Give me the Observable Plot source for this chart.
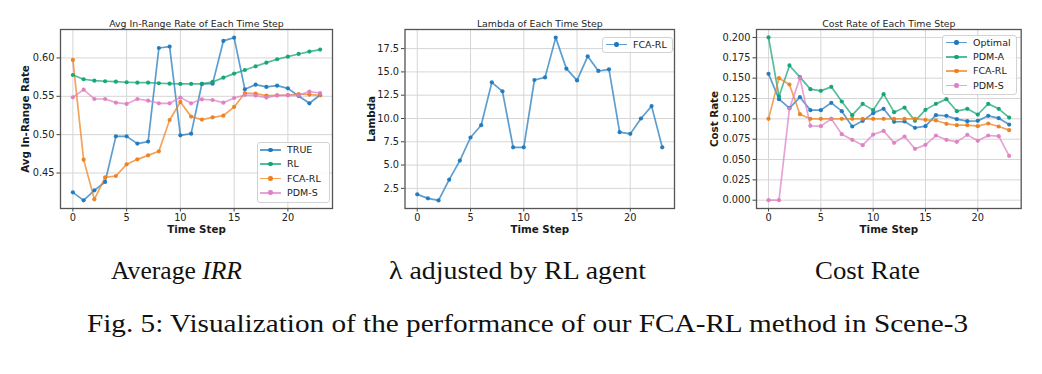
<!DOCTYPE html>
<html><head><meta charset="utf-8">
<script src="https://cdn.jsdelivr.net/npm/d3@7"></script>
<script src="https://cdn.jsdelivr.net/npm/@observablehq/plot@0.6"></script>
<style>
body{margin:0;background:#fff;}
#root{position:relative;width:1042px;height:374px;overflow:hidden;background:#fff;}
.panel{position:absolute;top:0;}
.legend{position:absolute;border:1px solid #d2d2d2;border-radius:3px;background:rgba(255,255,255,0.85);font-family:"DejaVu Sans";font-size:9.5px;color:#222;box-sizing:border-box;}
.row{position:absolute;left:0;height:12px;}
.row .ln{position:absolute;top:5px;height:1.7px;width:21px;opacity:0.72;}
.row .dt{position:absolute;top:3.6px;width:4.4px;height:4.4px;border-radius:50%;}
.row .tx{position:absolute;top:0;white-space:nowrap;line-height:12px;}
.cap{position:absolute;font-family:"Liberation Serif";font-size:25px;line-height:25px;white-space:nowrap;transform-origin:0 0;color:#111;}
</style>
</head><body><div id="root"></div>
<script>
// ---- data ----
const steps = [0,1,2,3,4,5,6,7,8,9,10,11,12,13,14,15,16,17,18,19,20,21,22,23];

const irrSeries = ["TRUE", "RL", "FCA-RL", "PDM-S"];
const irrTrue = [0.4248,0.4143,0.4274,0.4383,0.4978,0.4978,0.4883,0.4909,0.6130,0.6148,0.4991,0.5013,0.5661,0.5665,0.6222,0.6265,0.5591,0.5652,0.5622,0.5639,0.5604,0.5504,0.5409,0.5517];
const irrRL   = [0.5778,0.5722,0.5704,0.5696,0.5691,0.5683,0.5678,0.5678,0.5670,0.5665,0.5661,0.5661,0.5661,0.5687,0.5743,0.5796,0.5843,0.5891,0.5939,0.5983,0.6017,0.6052,0.6083,0.6109];
const irrFCA  = [0.5974,0.4674,0.4157,0.4443,0.4461,0.4613,0.4678,0.4730,0.4783,0.5191,0.5426,0.5235,0.5196,0.5226,0.5248,0.5361,0.5543,0.5535,0.5509,0.5513,0.5517,0.5530,0.5522,0.5513];
const irrPDMS = [0.5487,0.5587,0.5465,0.5465,0.5417,0.5400,0.5465,0.5443,0.5409,0.5409,0.5483,0.5409,0.5461,0.5452,0.5417,0.5478,0.5517,0.5509,0.5483,0.5513,0.5513,0.5513,0.5561,0.5543];

const lambdaSeries = ["FCA-RL"];
const lambdaFCA = [1.86,1.43,1.21,3.43,5.48,7.96,9.28,13.88,12.91,6.91,6.91,14.13,14.41,18.68,15.35,14.09,16.67,15.10,15.28,8.53,8.35,10.00,11.33,6.91];

const costSeries = ["Optimal", "PDM-A", "FCA-RL", "PDM-S"];
const costOptimal = [0.1553,0.1242,0.1131,0.1266,0.1107,0.1107,0.1197,0.1094,0.0906,0.0975,0.1070,0.1123,0.0963,0.0967,0.0889,0.0910,0.1045,0.1037,0.0996,0.0971,0.0975,0.1037,0.1008,0.0930];
const costPDMA    = [0.2000,0.1275,0.1656,0.1512,0.1365,0.1344,0.1393,0.1213,0.1045,0.1184,0.1107,0.1303,0.1082,0.1139,0.0975,0.1111,0.1184,0.1242,0.1094,0.1123,0.1053,0.1184,0.1123,0.1016];
const costFCA     = [0.1000,0.1500,0.1422,0.1057,0.1000,0.1000,0.1000,0.1000,0.1000,0.1000,0.1000,0.1000,0.1000,0.1000,0.1000,0.0988,0.0980,0.0939,0.0922,0.0922,0.0910,0.0943,0.0906,0.0861];
const costPDMS    = [0.0000,0.0000,0.1127,0.1500,0.0914,0.0910,0.1000,0.0811,0.0742,0.0676,0.0807,0.0852,0.0705,0.0783,0.0631,0.0680,0.0795,0.0742,0.0717,0.0803,0.0730,0.0795,0.0787,0.0545];

const xTicks = [0,5,10,15,20];
const irrTicks = [0.45,0.50,0.55,0.60];
const lambdaTicks = [2.5,5.0,7.5,10.0,12.5,15.0,17.5];
const costTicks = [0,0.025,0.05,0.075,0.1,0.125,0.15,0.175,0.2];

const panelTitles = ["Avg In-Range Rate of Each Time Step", "Lambda of Each Time Step", "Cost Rate of Each Time Step"];
const yLabels = ["Avg In-Range Rate", "Lambda", "Cost Rate"];
const xLabel = "Time Step";

const cBlue = "#1f78bd", cGreen = "#12a474", cOrange = "#ee7f1c", cPink = "#de80c4";

// ---- helpers ----
function longTable(names, arrays) {
  const out = [];
  names.forEach((n, i) => arrays[i].forEach((v, j) => out.push({series: n, step: steps[j], value: v})));
  return out;
}

function panel({data, names, colors, yDomain, yTicks, yFmt, title, ylab, width, mL, mR, ylabDx}) {
  const height = 240, mT = 29, mB = 32;
  return Plot.plot({
    width, height, marginLeft: mL, marginRight: mR, marginTop: mT, marginBottom: mB,
    style: {fontFamily: "DejaVu Sans", fontSize: "9px", color: "#222", background: "transparent", overflow: "visible"},
    x: {domain: [-1.15, 24.15]},
    y: {domain: yDomain},
    color: {domain: names, range: colors},
    marks: [
      Plot.gridX(xTicks, {stroke: "#d6d6d6", strokeOpacity: 1, strokeWidth: 1}),
      Plot.gridY(yTicks, {stroke: "#d6d6d6", strokeOpacity: 1, strokeWidth: 1}),
      Plot.axisX({ticks: xTicks, tickSize: 3.5, tickPadding: 2, label: null, stroke: "#444", fontSize: 9.8}),
      Plot.axisY({ticks: yTicks, tickSize: 3.5, tickPadding: 2.5, label: null, tickFormat: d3.format(yFmt), stroke: "#444", fontSize: 9.8}),
      Plot.line(data, {x: "step", y: "value", z: "series", stroke: "series", strokeWidth: 1.7, strokeOpacity: 0.72}),
      Plot.dot(data, {x: "step", y: "value", fill: "series", r: 2.1, fillOpacity: 0.95}),
      Plot.frame({stroke: "#555", strokeWidth: 1.3}),
      Plot.text([title], {frameAnchor: "top", dy: -6, textAnchor: "middle", lineAnchor: "middle", fontSize: 9.4, fill: "#262626"}),
      Plot.text([xLabel], {frameAnchor: "bottom", dy: 21, textAnchor: "middle", lineAnchor: "middle", fontSize: 10.3, fontWeight: "bold", fill: "#1a1a1a"}),
      Plot.text([ylab], {frameAnchor: "left", dx: ylabDx, rotate: -90, textAnchor: "middle", lineAnchor: "middle", fontSize: 10.3, fontWeight: "bold", fill: "#1a1a1a"})
    ]
  });
}

function legend(root, names, colors, box, rows) {
  const lg = document.createElement("div");
  lg.className = "legend";
  Object.assign(lg.style, {left: box.x + "px", top: box.y + "px", width: box.w + "px", height: box.h + "px"});
  names.forEach((n, i) => {
    const r = document.createElement("div");
    r.className = "row";
    r.style.top = (rows[i] - box.y - 6 - 1) + "px";
    r.style.width = box.w + "px";
    const ln = document.createElement("div"); ln.className = "ln"; ln.style.background = colors[i]; ln.style.left = (box.lx - box.x - 1) + "px";
    const dt = document.createElement("div"); dt.className = "dt"; dt.style.background = colors[i]; dt.style.left = (box.lx - box.x - 1 + 8.3) + "px";
    const tx = document.createElement("div"); tx.className = "tx"; tx.textContent = n; tx.style.left = (box.tx - box.x - 1) + "px";
    r.append(ln, dt, tx);
    lg.append(r);
  });
  root.append(lg);
}

const root = document.getElementById("root");

const irrColors = [cBlue, cGreen, cOrange, cPink];
const p1 = panel({data: longTable(irrSeries, [irrTrue, irrRL, irrFCA, irrPDMS]), names: irrSeries, colors: irrColors,
  yDomain: [0.4037, 0.6371], yTicks: irrTicks, yFmt: ".2f", title: panelTitles[0], ylab: yLabels[0], width: 340, mL: 60, mR: 8, ylabDx: -35});
p1.classList.add("panel"); p1.style.left = "0px"; root.append(p1);

const p2 = panel({data: longTable(lambdaSeries, [lambdaFCA]), names: lambdaSeries, colors: [cBlue],
  yDomain: [0.34, 19.55], yTicks: lambdaTicks, yFmt: ".1f", title: panelTitles[1], ylab: yLabels[1], width: 340, mL: 64.5, mR: 6, ylabDx: -33.5});
p2.classList.add("panel"); p2.style.left = "340px"; root.append(p2);

const costColors = [cBlue, cGreen, cOrange, cPink];
const p3 = panel({data: longTable(costSeries, [costOptimal, costPDMA, costFCA, costPDMS]), names: costSeries, colors: costColors,
  yDomain: [-0.0102, 0.2098], yTicks: costTicks, yFmt: ".3f", title: panelTitles[2], ylab: yLabels[2], width: 362, mL: 76, mR: 21.3, ylabDx: -42});
p3.classList.add("panel"); p3.style.left = "680px"; root.append(p3);

legend(root, irrSeries, irrColors, {x: 257, y: 142, w: 73, h: 61, lx: 260, tx: 287}, [150, 164.3, 178.6, 192.9]);
legend(root, lambdaSeries, [cBlue], {x: 602, y: 37, w: 71, h: 16, lx: 606, tx: 633}, [44.8]);
legend(root, costSeries, costColors, {x: 942, y: 35, w: 75, h: 60, lx: 946, tx: 973}, [42.7, 57, 71.3, 85.6]);

// captions: left/right edges
const caps = [
  {x0: 111, x1: 242, y: 258, html: "Average <i>IRR</i>"},
  {x0: 389, x1: 646, y: 258, html: "λ adjusted by RL agent"},
  {x0: 815, x1: 920, y: 258, html: "Cost Rate"},
  {x0: 87, x1: 968, y: 311, html: "Fig. 5: Visualization of the performance of our FCA-RL method in Scene-3"}
];
caps.forEach(c => {
  const d = document.createElement("div");
  d.className = "cap";
  d.style.left = c.x0 + "px"; d.style.top = c.y + "px";
  d.innerHTML = c.html;
  root.append(d);
  const w = d.getBoundingClientRect().width;
  d.style.transform = `scaleX(${(c.x1 - c.x0) / w})`;
});
</script>
</body></html>
